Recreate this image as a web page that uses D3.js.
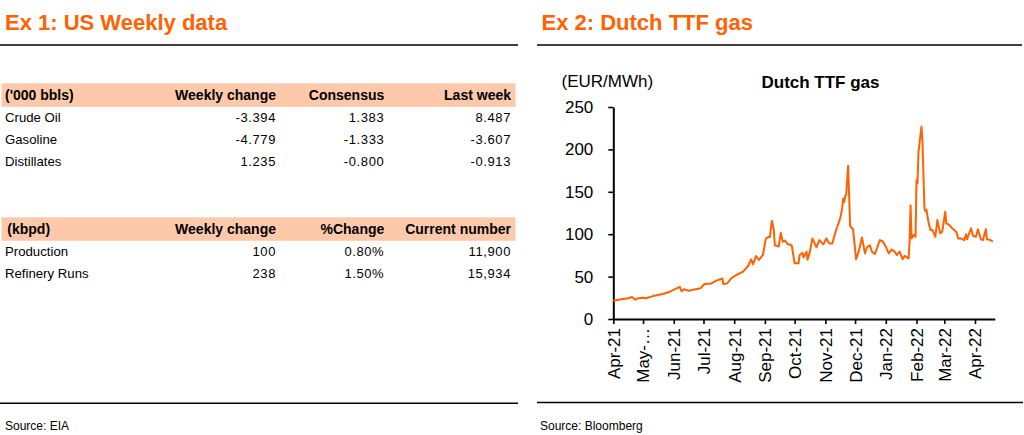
<!DOCTYPE html>
<html><head><meta charset="utf-8">
<script src="https://cdn.jsdelivr.net/npm/d3@7"></script>
<style>
html,body{margin:0;padding:0;background:#fff;}
svg text{font-family:"Liberation Sans",Arial,sans-serif;}
</style></head>
<body>
<svg id="c" width="1024" height="435"></svg>
<script>
// ---------- Data ----------
const titleLeft = "Ex 1: US Weekly data";
const titleRight = "Ex 2: Dutch TTF gas";
const sourceLeft = "Source: EIA";
const sourceRight = "Source: Bloomberg";

const table1Header = ["('000 bbls)", "Weekly change", "Consensus", "Last week"];
const table1Rows = ["Crude Oil", "Gasoline", "Distillates"];
const table1Weekly = ["-3.394", "-4.779", "1.235"];
const table1Consensus = ["1.383", "-1.333", "-0.800"];
const table1LastWeek = ["8.487", "-3.607", "-0.913"];

const table2Header = ["(kbpd)", "Weekly change", "%Change", "Current number"];
const table2Rows = ["Production", "Refinery Runs"];
const table2Weekly = ["100", "238"];
const table2Pct = ["0.80%", "1.50%"];
const table2Current = ["11,900", "15,934"];

const chartTitle = "Dutch TTF gas";
const yUnit = "(EUR/MWh)";
const yTicks = [0, 50, 100, 150, 200, 250];
const xTickDates = ["2021-04-01","2021-05-01","2021-06-01","2021-07-01","2021-08-01","2021-09-01","2021-10-01","2021-11-01","2021-12-01","2022-01-01","2022-02-01","2022-03-01","2022-04-01"];
const xTickLabels = ["Apr-21","May-…","Jun-21","Jul-21","Aug-21","Sep-21","Oct-21","Nov-21","Dec-21","Jan-22","Feb-22","Mar-22","Apr-22"];

const ttfDates = ["2021-04-01","2021-04-09","2021-04-16","2021-04-20","2021-04-23","2021-04-26","2021-05-01","2021-05-04","2021-05-11","2021-05-16","2021-05-21","2021-05-28","2021-06-04","2021-06-07","2021-06-09","2021-06-11","2021-06-16","2021-06-23","2021-06-28","2021-07-02","2021-07-09","2021-07-14","2021-07-18","2021-07-20","2021-07-21","2021-07-25","2021-07-29","2021-08-03","2021-08-10","2021-08-15","2021-08-18","2021-08-20","2021-08-23","2021-08-26","2021-08-30","2021-09-02","2021-09-05","2021-09-06","2021-09-08","2021-09-10","2021-09-11","2021-09-15","2021-09-17","2021-09-19","2021-09-21","2021-09-24","2021-09-28","2021-10-01","2021-10-05","2021-10-06","2021-10-09","2021-10-10","2021-10-13","2021-10-14","2021-10-16","2021-10-19","2021-10-23","2021-10-26","2021-10-30","2021-11-02","2021-11-05","2021-11-08","2021-11-11","2021-11-13","2021-11-16","2021-11-18","2021-11-19","2021-11-20","2021-11-21","2021-11-22","2021-11-24","2021-11-26","2021-11-29","2021-12-02","2021-12-05","2021-12-08","2021-12-11","2021-12-13","2021-12-16","2021-12-18","2021-12-21","2021-12-26","2021-12-29","2022-01-01","2022-01-04","2022-01-07","2022-01-10","2022-01-12","2022-01-15","2022-01-18","2022-01-20","2022-01-24","2022-01-25","2022-01-26","2022-01-27","2022-01-29","2022-01-31","2022-02-01","2022-02-02","2022-02-03","2022-02-06","2022-02-07","2022-02-09","2022-02-10","2022-02-11","2022-02-13","2022-02-15","2022-02-17","2022-02-20","2022-02-22","2022-02-23","2022-02-25","2022-02-27","2022-03-02","2022-03-03","2022-03-06","2022-03-09","2022-03-13","2022-03-14","2022-03-15","2022-03-18","2022-03-21","2022-03-23","2022-03-24","2022-03-28","2022-03-30","2022-04-02","2022-04-04","2022-04-07","2022-04-09","2022-04-12","2022-04-13","2022-04-17","2022-04-19"];
const ttfValues = [21.6,23.2,24.4,26,22.8,24.4,25,24.4,27,28.3,29.5,32.2,36.2,38,32.5,35,33.4,35,36.2,41.3,42,45.2,46.8,48,41.3,42,48,51.9,55.8,62.5,70.4,64.5,74.3,69.6,75.5,95,97,96.6,116,105,87,85.5,101.8,91,92.6,88.4,87,65.7,65.7,75.5,78,72.5,79.4,70,77.4,95,84.5,93,88,95,89,89,101.8,108.8,118.7,130.5,142,138,145,146,180.8,109.7,105.7,70.4,81,96,77.4,84.6,87,79.4,76.6,93,91.4,85.3,77.4,82,79.4,75.5,79.4,70.4,74.5,71.5,91,134,95,99,97,164,160,197,226.8,209,130.5,127,129,114.7,105,105,97,116.7,111,101,103,126.5,112.8,111,107,103,100,95,95,93,100,94,107,98,97,105.7,94,93,106,94,93,91];

// ---------- Styles ----------
const ORANGE = "#FF6200";
const PEACH = "#FDC9AA";

const svg = d3.select("#c");

// Titles and rules
svg.append("text").attr("x", 5).attr("y", 29.5).attr("font-size", 22).attr("font-weight", "bold")
  .attr("fill", ORANGE).text(titleLeft);
svg.append("text").attr("x", 541.5).attr("y", 29.5).attr("font-size", 22).attr("font-weight", "bold")
  .attr("fill", ORANGE).text(titleRight);
[[0, 518, 45], [537, 1022, 45], [0, 518, 403.3], [537, 1023, 402.5]].forEach(([a, b, y]) =>
  svg.append("line").attr("x1", a).attr("x2", b).attr("y1", y).attr("y2", y)
    .attr("stroke", "#000").attr("stroke-width", 1.6));
svg.append("text").attr("x", 5).attr("y", 430).attr("font-size", 12).text(sourceLeft);
svg.append("text").attr("x", 540).attr("y", 430).attr("font-size", 12).text(sourceRight);

// ---------- Tables ----------
const colRight = [276, 384.3, 511];
function drawTable(top, header, headerX, rows, cols) {
  const g = svg.append("g");
  g.append("rect").attr("x", 1.5).attr("y", top).attr("width", 514).attr("height", 23.5).attr("fill", PEACH);
  g.append("text").attr("x", headerX).attr("y", top + 16.8).attr("font-size", 14).attr("font-weight", "bold").text(header[0]);
  header.slice(1).forEach((h, i) =>
    g.append("text").attr("x", colRight[i]).attr("y", top + 16.8).attr("font-size", 14)
      .attr("font-weight", "bold").attr("text-anchor", "end").text(h));
  rows.forEach((r, j) => {
    const y = top + 38.3 + j * 22.3;
    g.append("text").attr("x", 5).attr("y", y).attr("font-size", 13.2).text(r);
    cols.forEach((c, i) =>
      g.append("text").attr("x", colRight[i]).attr("y", y).attr("font-size", 13)
        .attr("letter-spacing", "0.6px").attr("text-anchor", "end").text(c[j]));
  });
}
drawTable(83.3, table1Header, 5, table1Rows, [table1Weekly, table1Consensus, table1LastWeek]);
drawTable(217.3, table2Header, 7.3, table2Rows, [table2Weekly, table2Pct, table2Current]);

// ---------- Chart ----------
const parse = d3.utcParse("%Y-%m-%d");
const data = ttfDates.map((d, i) => ({ date: parse(d), value: ttfValues[i] }));

const x = d3.scaleUtc().domain([parse("2021-04-01"), parse("2022-04-21")]).range([613.3, 994.8]);
const y = d3.scaleLinear().domain([0, 250]).range([319, 107]);

svg.append("text").attr("x", 561.5).attr("y", 87.3).attr("font-size", 17).text(yUnit);
svg.append("text").attr("x", 820.5).attr("y", 88.3).attr("font-size", 17).attr("font-weight", "bold")
  .attr("text-anchor", "middle").text(chartTitle);

const yAxis = svg.append("g").attr("transform", "translate(613.3,0)")
  .call(d3.axisLeft(y).tickValues(yTicks).tickSize(5).tickSizeOuter(0).tickPadding(15));
yAxis.select(".domain").attr("stroke-width", 2);
yAxis.selectAll(".tick line").attr("stroke-width", 1.6);
yAxis.selectAll("text").attr("font-size", 17).attr("font-family", "Liberation Sans, Arial, sans-serif").attr("fill", "#000");

const xAxis = svg.append("g").attr("transform", "translate(0,319)")
  .call(d3.axisBottom(x).tickValues(xTickDates.map(parse))
    .tickFormat((d, i) => xTickLabels[i]).tickSize(5).tickSizeOuter(0));
xAxis.select(".domain").attr("stroke-width", 2);
xAxis.selectAll(".tick line").attr("stroke-width", 1.6);
xAxis.selectAll("text").attr("font-size", 17).attr("font-family", "Liberation Sans, Arial, sans-serif")
  .attr("fill", "#000").attr("transform", "rotate(-90)").attr("text-anchor", "end")
  .attr("x", -9).attr("y", 0).attr("dy", "0.35em");

const line = d3.line().x(d => x(d.date)).y(d => y(d.value));
svg.append("path").datum(data).attr("d", line).attr("fill", "none")
  .attr("stroke", ORANGE).attr("stroke-width", 2).attr("stroke-linejoin", "round");
</script>
</body></html>
